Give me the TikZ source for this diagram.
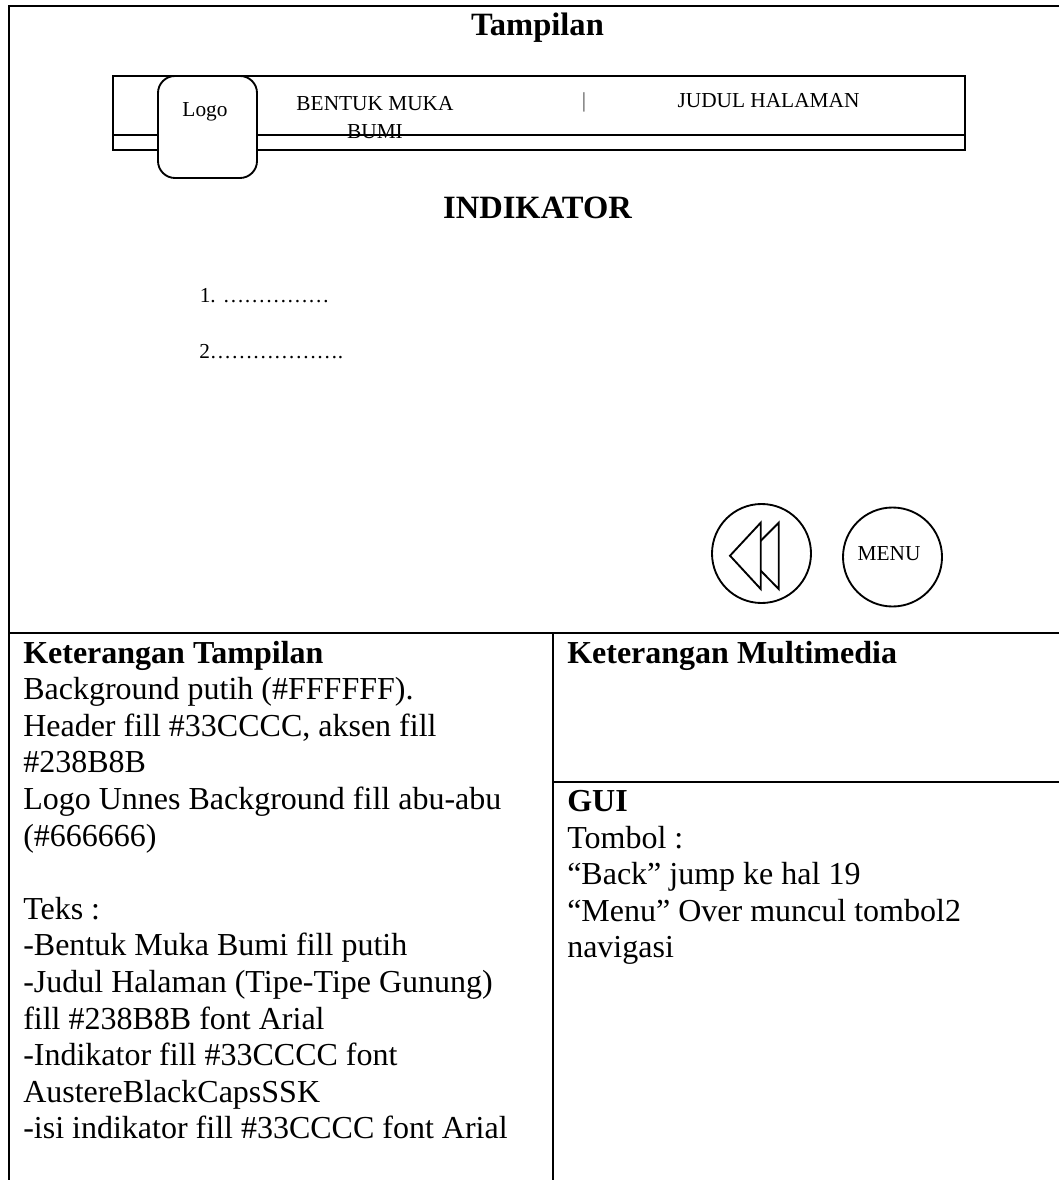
\documentclass[tikz,border=0pt]{standalone}
\usepackage{fontspec}
\setmainfont{Liberation Serif}
\usetikzlibrary{arrows.meta, positioning, shapes.geometric, calc}
\tikzset{
    frameline/.style={draw=black, line width=1.6pt},
    shapeline/.style={draw=black, line width=1.4pt},
    smalltext/.style={font=\fontsize{16}{21}\selectfont, inner sep=0pt},
    bodytext/.style={font=\fontsize{24}{27.45}\selectfont, inner sep=0pt, anchor=north west, align=left},
    headtext/.style={font=\fontsize{24.4}{28}\selectfont\bfseries, inner sep=0pt, anchor=base}
}
\begin{document}
\begin{tikzpicture}[x=0.75pt, y=-0.75pt]
    \useasboundingbox (0,0) rectangle (1059,1180);
    % Table frame
    \draw[frameline] (1059,6) -- (9,6) -- (9,1180);
    \draw[frameline] (9,632.7) -- (1059,632.7);
    \draw[frameline] (552.7,632.7) -- (552.7,1180);
    \draw[frameline] (552.7,781.7) -- (1059,781.7);

    % Header bar
    \node[smalltext, align=center, anchor=north] (bentuk) at (375,96) {BENTUK MUKA\\BUMI};
    \draw[shapeline] (113.3,76) rectangle (965,150);
    \draw[shapeline] (113.3,135) -- (965,135);
    \node[smalltext, anchor=base, text=black!70] (sep) at (584,108) {|};
    \node[smalltext, anchor=base] (judul) at (768.5,108) {JUDUL HALAMAN};
    \node[shapeline, fill=white, rounded corners=12.75pt, minimum width=74.25pt, minimum height=76.5pt, inner sep=0pt] (logo) at (207.5,127) {};
    \node[smalltext, anchor=base] (logotext) at (205,117) {Logo};

    % Titles
    \node[headtext] (tampilan) at (537.5,36) {Tampilan};
    \node[headtext] (indikator) at (537.5,219) {INDIKATOR};
    \node[smalltext, anchor=base west] (satu) at (199.5,302) {1. ……………};
    \node[smalltext, anchor=base west] (dua) at (199,358) {2……………….};

    % Buttons
    \node[circle, shapeline, minimum size=74.25pt, inner sep=0pt] (back) at (761.5,553.5) {};
    \draw[shapeline] (778.7,522.7) -- (778.7,589) -- (746,555.7) -- cycle;
    \draw[shapeline, fill=white] (760.7,522.7) -- (760.7,589) -- (730,555.7) -- cycle;
    \node[circle, shapeline, minimum size=74.25pt, inner sep=0pt] (menu) at (892.5,557) {};
    \node[smalltext, anchor=base] (menutext) at (889,560.7) {MENU};

    % Notes
    \node[bodytext] (kiri) at (23,640.7) {\textbf{Keterangan Tampilan}\\
        Background putih (\#FFFFFF).\\
        Header fill \#33CCCC, aksen fill\\
        \#238B8B\\
        Logo Unnes Background fill abu-abu\\
        (\#666666)\\
        \mbox{}\\
        Teks :\\
        -Bentuk Muka Bumi fill putih\\
        -Judul Halaman (Tipe-Tipe Gunung)\\
        fill \#238B8B font Arial\\
        -Indikator fill \#33CCCC font\\
        AustereBlackCapsSSK\\
        -isi indikator fill \#33CCCC font Arial};
    \node[bodytext] (multimedia) at (567,640.7) {\textbf{Keterangan Multimedia}};
    \node[bodytext] (gui) at (567,790) {\textbf{GUI}\\
        Tombol :\\
        “Back” jump ke hal 19\\
        “Menu” Over muncul tombol2\\
        navigasi};
\end{tikzpicture}
\end{document}
